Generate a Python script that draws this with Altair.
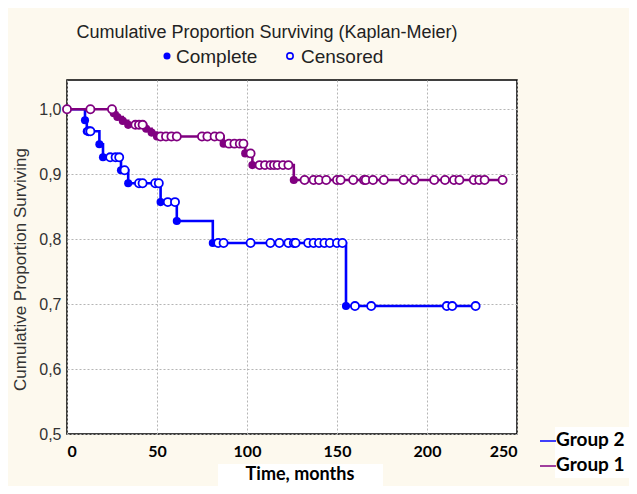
import altair as alt
import pandas as pd

# ---- data ----
g1_event_t = [26, 28, 31, 34, 44, 47, 50, 87, 99, 103, 126]
g1_event_s = [0.994, 0.988, 0.982, 0.976, 0.970, 0.964, 0.958, 0.947, 0.932, 0.914, 0.891]
g1_cens_t = [0, 13, 25, 38, 40, 42, 52, 55, 58, 61, 75, 78, 82, 85, 90, 93, 96, 98, 102,
             107, 110, 113, 115, 117, 120, 123,
             132, 137, 140, 144, 150, 152, 159, 165, 166, 170, 176, 187, 193, 204, 210,
             215, 218, 226, 229, 232, 242]
g1_cens_s = ([1.0] * 3 + [0.976] * 3 + [0.958] * 8 + [0.947] * 4 + [0.932] * 1
             + [0.914] * 7 + [0.891] * 21)

g2_event_t = [10, 11, 18, 20, 30, 34, 52, 61, 81, 155]
g2_event_s = [0.983, 0.966, 0.946, 0.926, 0.906, 0.886, 0.857, 0.828, 0.794, 0.697]
g2_cens_t = [12, 13, 24, 27, 29, 32, 40, 42, 49, 51, 56, 60,
             84, 87, 102, 113, 118, 123, 126, 127, 134, 137, 140, 143, 146, 150, 153,
             160, 169, 211, 214, 227]
g2_cens_s = ([0.966] * 2 + [0.926] * 3 + [0.906] * 1 + [0.886] * 4 + [0.857] * 2
             + [0.794] * 15 + [0.697] * 5)

x_ticks = [0, 50, 100, 150, 200, 250]
y_ticks = [0.5, 0.6, 0.7, 0.8, 0.9, 1.0]

BLUE = "#0000ff"
PURPLE = "#800080"


def curve(name, et, es, ct, cs):
    t = [0] + et + [max(ct)]
    s = [1.0] + es + [cs[-1]]
    return pd.DataFrame({"t": t, "s": s, "group": name})


lines = pd.concat([curve("Group 2", g2_event_t, g2_event_s, g2_cens_t, g2_cens_s),
                   curve("Group 1", g1_event_t, g1_event_s, g1_cens_t, g1_cens_s)])
events = pd.concat([
    pd.DataFrame({"t": g2_event_t, "s": g2_event_s, "group": "Group 2"}),
    pd.DataFrame({"t": g1_event_t, "s": g1_event_s, "group": "Group 1"})])
cens = pd.concat([
    pd.DataFrame({"t": g2_cens_t, "s": g2_cens_s, "group": "Group 2"}),
    pd.DataFrame({"t": g1_cens_t, "s": g1_cens_s, "group": "Group 1"})])

xenc = alt.X("t:Q", scale=alt.Scale(domain=[0, 250], nice=False),
             axis=alt.Axis(values=x_ticks, title=None, labelFont="Lato",
                           labelFontWeight="bold", labelFontSize=16, labelColor="black",
                           grid=True, gridDash=[2, 2], gridColor="#b5b5b5",
                           domain=False, ticks=False, labelPadding=9))
yenc = alt.Y("s:Q", scale=alt.Scale(domain=[0.5, 1.045], nice=False, zero=False),
             axis=alt.Axis(values=y_ticks, title="Cumulative Proportion Surviving",
                           labelExpr="replace(format(datum.value, '.1f'), '.', ',')",
                           labelFont="Liberation Sans", labelFontSize=16,
                           labelColor="#333333", titleFont="Liberation Sans",
                           titleFontSize=17, titleFontWeight="normal",
                           titleColor="#333333", titlePadding=9, titleY=189,
                           grid=True, gridDash=[2, 2], gridColor="#b5b5b5",
                           domain=False, ticks=False, labelPadding=6))
color = alt.Color("group:N", scale=alt.Scale(domain=["Group 2", "Group 1"],
                                             range=[BLUE, PURPLE]), legend=None)
order_sort = alt.Order("t:Q")

layers = []
for g in ["Group 2", "Group 1"]:
    layers.append(alt.Chart(lines[lines.group == g]).mark_line(
        interpolate="step-after", strokeWidth=2.6).encode(x=xenc, y=yenc, color=color, order=order_sort))
    layers.append(alt.Chart(events[events.group == g]).mark_point(
        shape="circle", filled=True, size=66, opacity=1).encode(x=xenc, y=yenc, color=color))
    layers.append(alt.Chart(cens[cens.group == g]).mark_point(
        shape="circle", filled=False, size=66, strokeWidth=1.8, fill="white",
        fillOpacity=1, opacity=1).encode(x=xenc, y=yenc, color=color))

# ---- annotations (title, legend, axis title) ----
ann = pd.DataFrame({"k": [0]})
title = alt.Chart(ann).mark_text(text="Cumulative Proportion Surviving (Kaplan-Meier)",
                                  font="Liberation Sans", fontSize=18, color="#222222",
                                  align="center", baseline="middle").encode(
    x=alt.value(200), y=alt.value(-47))
leg_dot1 = alt.Chart(ann).mark_point(shape="circle", filled=True, size=50, color=BLUE,
                                     opacity=1).encode(x=alt.value(100), y=alt.value(-24))
leg_txt1 = alt.Chart(ann).mark_text(text="Complete", font="Liberation Sans", fontSize=19,
                                    color="#222222", align="left", baseline="middle").encode(
    x=alt.value(109), y=alt.value(-23))
leg_dot2 = alt.Chart(ann).mark_point(shape="circle", filled=False, size=40, color=BLUE,
                                     strokeWidth=1.6, opacity=1).encode(
    x=alt.value(223), y=alt.value(-24))
leg_txt2 = alt.Chart(ann).mark_text(text="Censored", font="Liberation Sans", fontSize=19,
                                    color="#222222", align="left", baseline="middle").encode(
    x=alt.value(234), y=alt.value(-23))

xt_bg = alt.Chart(ann).mark_rect(color="white").encode(
    x=alt.value(151), x2=alt.value(316), y=alt.value(384), y2=alt.value(420))
xt = alt.Chart(ann).mark_text(text="Time, months", font="Lato", fontWeight="bold",
                              fontSize=18, color="black", align="center",
                              baseline="alphabetic").encode(x=alt.value(233), y=alt.value(400))

gl_bg = alt.Chart(ann).mark_rect(color="white").encode(
    x=alt.value(488), x2=alt.value(580), y=alt.value(347), y2=alt.value(398))
gl_line2 = alt.Chart(ann).mark_rule(color=BLUE, strokeWidth=1.5).encode(
    x=alt.value(473), x2=alt.value(489), y=alt.value(361))
gl_line1 = alt.Chart(ann).mark_rule(color=PURPLE, strokeWidth=1.5).encode(
    x=alt.value(473), x2=alt.value(489), y=alt.value(386))
gl_txt2 = alt.Chart(ann).mark_text(text="Group 2", font="Lato", fontWeight="bold",
                                   fontSize=19, color="black", align="left",
                                   baseline="middle").encode(x=alt.value(489), y=alt.value(360))
gl_txt1 = alt.Chart(ann).mark_text(text="Group 1", font="Lato", fontWeight="bold",
                                   fontSize=19, color="black", align="left",
                                   baseline="middle").encode(x=alt.value(489), y=alt.value(385))

chart = alt.layer(*layers, title, leg_dot1, leg_txt1, leg_dot2, leg_txt2,
                  xt_bg, xt, gl_bg, gl_line2, gl_line1, gl_txt2, gl_txt1).properties(
    width=450, height=354,
    padding={"left": 59, "top": 72, "right": 112, "bottom": 52},
    autosize=alt.AutoSizeParams(type="none"),
    background="#fdf9ee",
).configure_view(fill="white", stroke="black", strokeWidth=1.5)

chart.save("out.html", embed_options={"renderer": "svg", "actions": False})
